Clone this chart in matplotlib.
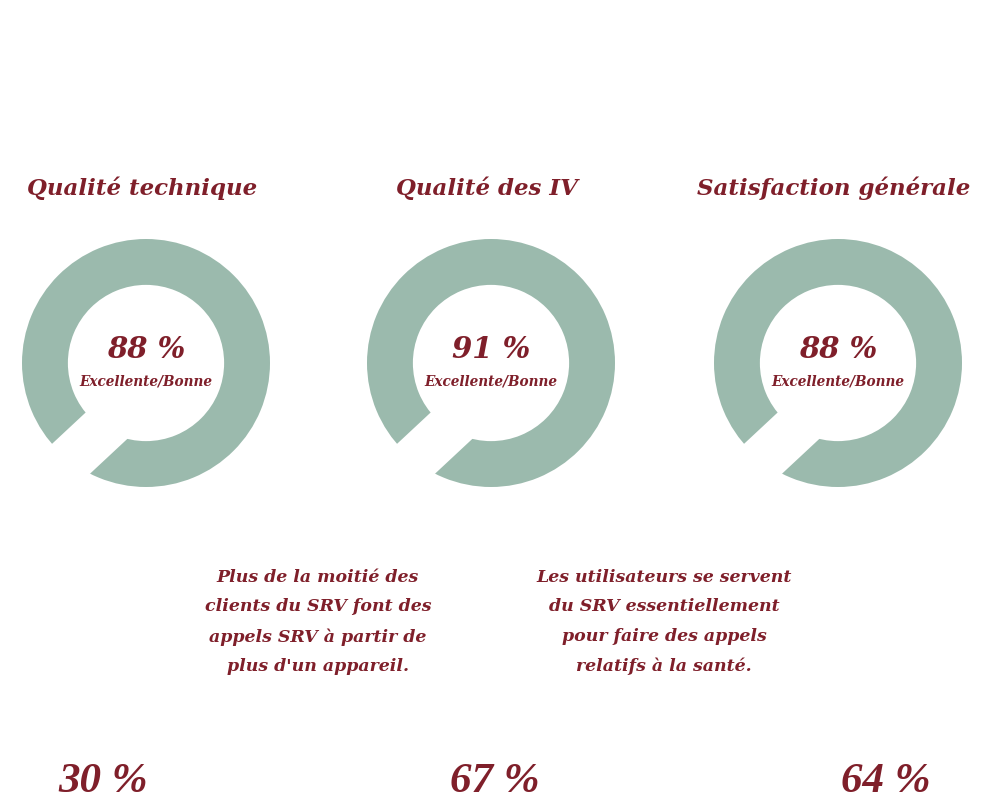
import numpy as np
import matplotlib
matplotlib.use("Agg")
import matplotlib.pyplot as plt
from matplotlib.patches import Polygon

# data
titles = ["Qualité technique", "Qualité des IV", "Satisfaction générale"]
scores = [88, 91, 88]
score_label = "Excellente/Bonne"
notes = [
    "Plus de la moitié des\nclients du SRV font des\nappels SRV à partir de\nplus d'un appareil.",
    "Les utilisateurs se servent\ndu SRV essentiellement\npour faire des appels\nrelatifs à la santé.",
]
bottom_values = [30, 67, 64]

RED = "#7f1f2a"
TEAL = "#9bbaad"
W, H = 991, 800

fig = plt.figure(figsize=(W / 100, H / 100), dpi=100)
fig.patch.set_facecolor("white")


def px(x, y):
    # pixel coords (top-left origin) -> figure fraction
    return x / W, 1 - y / H


font = dict(family="DejaVu Serif", style="italic", weight="bold", color=RED)

donut_x = [146, 491, 838]
donut_y = 363
r_out = 124
half = 1.1 * r_out

for cx, title, score in zip(donut_x, titles, scores):
    ax = fig.add_axes([(cx - half) / W, 1 - (donut_y + half) / H, 2 * half / W, 2 * half / H])
    ax.pie([1], colors=[TEAL], radius=1, startangle=90,
           wedgeprops=dict(width=0.37, edgecolor="none"))
    # white notch cut through the ring, lower left
    ang = np.deg2rad(223)
    u = np.array([np.cos(ang), np.sin(ang)])
    n = np.array([-np.sin(ang), np.cos(ang)])
    pts = [s * u + t * n for s, t in [(0.3, -0.04), (1.3, -0.04), (1.3, 0.345), (0.3, 0.345)]]
    ax.add_patch(Polygon(pts, closed=True, facecolor="white", edgecolor="none"))
    ax.set_xlim(-1.1, 1.1)
    ax.set_ylim(-1.1, 1.1)
    ax.set_aspect("equal")
    ax.axis("off")

    fig.text(*px(cx - 4, 188), title, ha="center", va="center", fontsize=16.5, **font)
    fig.text(*px(cx, 349), f"{score} %", ha="center", va="center", fontsize=21, **font)
    fig.text(*px(cx, 381), score_label, ha="center", va="center", fontsize=9.8, **font)

for x, note in zip([318, 664], notes):
    fig.text(*px(x, 622), note, ha="center", va="center", fontsize=12.5,
             linespacing=1.94, **font)

big = dict(font, family="Liberation Serif")
for x, v in zip([103, 495, 886], bottom_values):
    fig.text(*px(x, 782), f"{v} %", ha="center", va="center", fontsize=31, **big)

fig.savefig("out.png", dpi=100, facecolor="white")
